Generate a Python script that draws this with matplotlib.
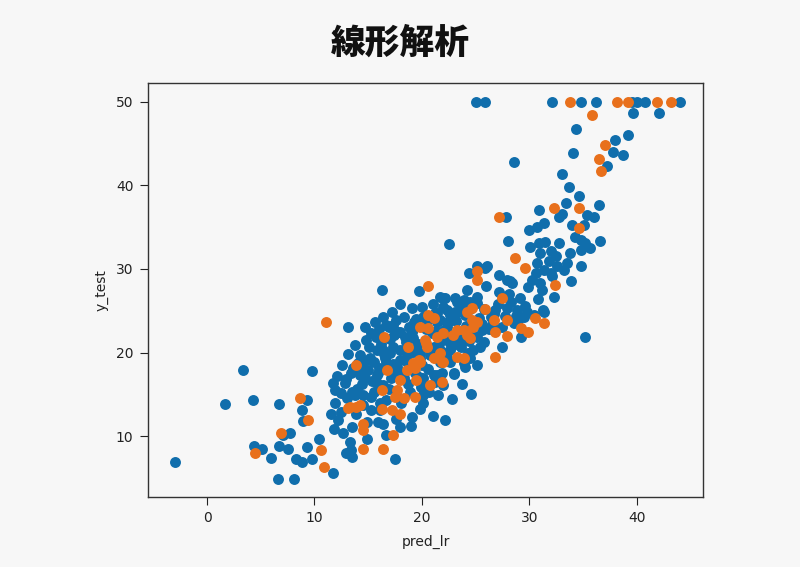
import matplotlib
matplotlib.use("Agg")
import matplotlib.pyplot as plt

title = "線形解析"
x_label = "pred_lr"
y_label = "y_test"
x_ticks = [0, 10, 20, 30, 40]
y_ticks = [10, 20, 30, 40, 50]

train_x = [
    -3.0, 3.3, 1.7, 4.3, 6.7, 9.8, 9.3, 8.8, 8.9, 7.7, 7.1, 4.4, 5.1, 6.0, 6.7, 7.5, 8.3, 8.8, 9.8, 9.3,
    10.4, 6.6, 8.1, 11.7, 11.7, 12.8, 11.9, 12.5, 11.9, 11.5, 12.2, 11.8, 12.7, 12.9,
    13.5, 14.25, 14.1, 15.2, 14.7, 13.5, 13.3, 13.4, 13.5, 14.9, 14.9, 15.95, 16.4, 16.7, 17.5, 22.2,
    15.3, 16.1, 14.55, 19.1, 19.85, 20.15, 18.0, 12.5, 13.9, 13.0, 13.8, 14.55, 15.5, 16.4, 15.8, 16.7,
    18.9, 20.15, 20.3, 21.1, 22.0, 18.3, 17.7, 18.6, 19.85, 21.7, 22.3,
    13.15, 16.3, 19.7, 22.5, 22.0, 22.3, 20.1, 21.4, 16.9, 17.35, 18.0, 19.1, 14.25, 15.2, 16.4, 17.35,
    18.0, 19.2, 22.3, 22.0, 19.85,
    25.07, 25.9, 32.1, 34.8, 36.2, 39.6, 40.05, 40.8, 44.0,
    39.7, 42.1, 34.4, 39.2, 38.0, 37.8, 38.75, 34.1, 37.25, 28.6, 33.05, 33.7, 34.6, 33.4, 36.5, 30.9,
    32.75, 33.05, 35.4, 36.0, 27.8, 31.35, 30.7, 29.95, 34.0, 35.1, 28.0, 36.6, 30.1, 30.9, 31.5, 32.75,
    34.3, 34.8, 35.2, 35.7, 31.0, 32.0, 32.45, 33.8, 34.8, 30.7, 31.8, 33.5, 34.8, 30.6, 33.2, 30.3,
    31.2, 32.3, 32.1, 33.9, 25.9, 24.35, 24.2, 25.1, 27.9, 28.4, 27.15, 29.1, 22.2, 23.1, 23.9, 31.3,
    31.0, 31.35, 32.0, 32.6, 25.1, 26.1, 21.7, 31.35,
    23.4, 24.5, 25.75, 26.85, 27.9, 28.85, 29.8, 30.4,
    27.45, 29.2, 29.0, 29.5, 25.45, 25.1, 25.6, 23.6, 22.3, 22.6, 23.9, 25.1, 21.7,
    24.6, 22.95, 35.2, 28.2,
    16.7, 17.8, 19.1, 15.8, 17.0, 16.6, 15.5, 18.0, 22.6, 22.0, 23.3, 24.5, 25.1, 21.2, 21.4, 22.6,
    23.6, 23.0, 24.0, 24.5, 24.8, 20.0, 19.4, 21.4, 18.3,
    14.8, 15.3, 16.0, 16.2, 17.0, 17.6, 18.3, 18.8, 19.5, 20.2, 20.9, 21.6, 20.8, 19.2, 18.5, 17.3,
    16.0, 15.0, 14.4, 15.8, 17.1, 18.7, 19.9, 21.2, 22.6, 23.5, 24.1, 25.3, 26.4, 27.1, 28.3, 28.8,
    27.5, 26.3, 25.8, 24.3, 23.2, 22.1, 21.0, 20.0, 19.1, 18.0, 17.2, 16.4, 15.6, 14.7, 13.8, 13.1,
    12.6, 13.4, 12.1, 14.0, 15.3, 16.7, 18.1, 17.6, 19.0, 21.0, 21.5, 22.8, 23.7,
    15.1, 15.7, 16.5, 17.4, 18.4, 19.3, 20.5, 21.3, 22.4, 23.1, 24.0, 14.3, 15.9, 17.7, 18.9, 20.6,
    21.8, 23.3, 19.7, 20.7, 21.9, 17.9, 16.9, 15.4, 14.6, 13.6, 12.9, 18.6, 19.6, 20.4, 22.9, 24.4,
    25.6, 26.7, 27.7, 28.6, 29.6, 26.0, 27.2, 28.1, 29.9, 30.8, 26.5, 24.9, 23.8, 21.1, 20.1, 16.1,
]
train_y = [
    6.9, 17.9, 13.8, 14.3, 13.8, 17.8, 14.3, 13.1, 11.8, 10.4, 10.1, 8.8, 8.45, 7.4, 8.8, 8.4, 7.3, 6.95, 7.2, 8.65,
    9.65, 4.9, 4.9, 5.6, 16.4, 16.3, 15.5, 15.1, 13.9, 12.7, 11.9, 10.8, 10.4, 8.0,
    15.3, 17.3, 18.7, 19.1, 16.9, 11.1, 9.3, 8.3, 7.5, 9.7, 11.7, 11.7, 11.5, 10.1, 7.25, 11.9,
    13.1, 13.1, 13.7, 12.3, 13.3, 13.9, 11.1, 12.9, 12.7, 14.5, 14.9, 14.9, 15.3, 16.1, 17.3, 18.9,
    15.3, 14.9, 16.1, 17.3, 16.1, 16.9, 18.3, 18.9, 19.3, 18.9, 19.3,
    23.1, 27.5, 27.3, 33.0, 26.5, 25.1, 24.2, 24.7, 23.1, 23.3, 22.5, 22.7, 19.7, 19.3, 20.3, 20.7,
    20.3, 21.7, 23.1, 21.9, 19.9,
    50.0, 50.0, 50.0, 50.0, 50.0, 50.0, 50.0, 50.0, 50.0,
    48.7, 48.6, 46.8, 46.0, 45.4, 44.0, 43.6, 43.9, 42.3, 42.75, 41.3, 39.8, 38.7, 37.9, 37.6, 37.0,
    36.2, 36.6, 36.45, 36.2, 36.2, 35.45, 35.05, 34.7, 35.3, 35.25, 33.3, 33.4, 32.65, 33.05, 33.25, 33.05,
    33.85, 33.45, 33.05, 32.5, 31.9, 32.1, 31.5, 31.9, 32.25, 30.7, 30.9, 30.7, 30.3, 29.5, 29.9, 28.7,
    27.5, 26.7, 29.1, 28.55, 30.15, 29.5, 27.5, 26.7, 28.7, 28.3, 27.2, 26.5, 26.5, 26.5, 26.3, 25.1,
    28.3, 29.9, 29.5, 30.3, 30.3, 30.3, 26.7, 24.9,
    24.9, 25.2, 25.2, 25.1, 25.3, 25.1, 24.9, 24.5,
    20.7, 21.9, 23.9, 24.3, 20.7, 21.9, 22.7, 21.1, 21.5, 20.3, 18.7, 18.5, 23.9,
    15.0, 17.4, 21.8, 28.6,
    23.3, 22.5, 22.5, 20.3, 19.9, 19.3, 18.9, 19.1, 24.5, 25.5, 26.1, 26.1, 25.9, 24.7, 23.7, 21.1,
    20.7, 17.5, 18.3, 19.3, 20.3, 18.5, 17.5, 17.3, 17.5,
    21.5, 22.3, 22.8, 21.0, 21.6, 23.9, 24.2, 23.0, 24.0, 23.0, 22.3, 21.0, 19.7, 20.1, 21.3, 18.6,
    18.2, 17.9, 16.2, 16.3, 16.9, 16.2, 15.9, 16.5, 18.9, 22.0, 23.2, 24.1, 24.3, 25.8, 26.0, 24.4,
    23.0, 22.8, 21.3, 20.0, 23.8, 22.7, 25.8, 25.5, 25.3, 25.8, 24.8, 24.2, 23.7, 23.0, 20.9, 19.8,
    18.5, 17.5, 17.2, 15.6, 14.7, 14.3, 13.9, 12.0, 11.2, 12.4, 14.9, 14.4, 16.2,
    20.6, 21.8, 19.8, 22.1, 21.9, 23.6, 23.8, 22.6, 23.6, 24.8, 24.5, 18.0, 17.6, 17.8, 20.4, 18.0,
    20.2, 21.6, 17.1, 15.3, 17.6, 14.6, 15.6, 16.6, 19.0, 18.2, 16.8, 19.6, 21.0, 22.8, 20.9, 21.4,
    23.4, 24.6, 24.4, 23.5, 25.6, 27.9, 29.3, 27.0, 27.8, 26.4, 23.3, 22.0, 25.4, 20.6, 17.0, 14.0,
]

test_x = [
    8.65, 9.4, 6.85, 4.45, 10.6, 10.85, 13.1,
    13.9, 16.8, 16.3, 13.3, 13.9, 14.25, 14.55, 14.55, 14.5, 16.4, 17.35, 16.3, 17.2, 18.0, 17.5, 17.7,
    18.3, 19.4, 18.0, 19.5, 18.6, 19.4, 19.7, 21.1, 21.9, 21.9,
    11.07, 20.55, 20.6, 21.1, 19.85, 20.6, 16.5, 18.75, 20.3, 21.4, 20.5, 21.7,
    33.8, 38.2, 39.2, 41.9, 43.2, 35.85, 37.1, 36.5, 36.7, 32.3, 34.6, 27.15, 34.6, 28.7, 29.6, 32.4,
    25.1, 25.1, 27.5, 24.7, 25.9,
    24.2, 24.7, 26.7, 27.9, 29.2, 29.9, 30.5, 31.35, 27.9, 26.85, 26.85, 23.3, 23.9, 24.2, 24.5, 22.9,
    25.1, 22.0, 23.3, 23.9,
    20.4, 22.0, 19.85, 19.2, 20.8, 24.8,
]
test_y = [
    14.6, 11.9, 10.4, 8.0, 8.3, 6.3, 13.4,
    18.5, 17.9, 15.5, 13.5, 13.5, 13.7, 11.5, 10.7, 8.4, 8.45, 10.1, 13.3, 13.1, 12.7, 14.7, 15.5,
    14.5, 14.7, 16.7, 16.7, 17.9, 18.1, 19.1, 19.3, 18.9, 16.5,
    23.7, 27.9, 24.5, 24.1, 23.1, 22.9, 21.8, 20.7, 21.5, 21.9, 20.7, 19.9,
    50.0, 50.0, 50.0, 50.0, 50.0, 48.4, 44.8, 43.1, 41.7, 37.3, 37.3, 36.2, 34.85, 31.3, 30.15, 28.1,
    29.75, 28.7, 26.55, 25.3, 25.2,
    24.9, 23.9, 23.9, 23.9, 22.9, 22.5, 24.1, 23.5, 22.0, 22.5, 19.5, 22.7, 22.7, 22.1, 21.7, 22.1,
    23.7, 22.3, 19.5, 19.3,
    21.1, 18.9, 18.9, 18.7, 16.1, 23.1,
]

blue = "#106eac"
orange = "#e8701c"
bg = "#f7f7f7"

plt.rcParams['font.family'] = ['DejaVu Sans']
fig = plt.figure(figsize=(8.0, 5.67), dpi=100, facecolor=bg)
ax = fig.add_axes([0.185, 0.124, 0.694, 0.730])
ax.set_facecolor(bg)

ax.scatter(train_x, train_y, s=62, color=blue, linewidths=0, zorder=2)
ax.scatter(test_x, test_y, s=62, color=orange, linewidths=0, zorder=3)

ax.set_xlim(-5.5, 46.2)
ax.set_ylim(2.75, 52.27)
ax.set_xticks(x_ticks)
ax.set_yticks(y_ticks)
ax.tick_params(labelsize=10, colors="#222222", length=5.5, pad=5)
for sp in ax.spines.values():
    sp.set_color("#333333")
    sp.set_linewidth(1.0)
ax.set_xlabel(x_label, fontsize=10, color="#222222", labelpad=7)
ax.set_ylabel(y_label, fontsize=10, color="#222222", labelpad=5)

fig.text(0.5, 0.924, title, ha="center", va="center", fontsize=25, fontweight="heavy",
         family=["Noto Sans CJK JP", "DejaVu Sans"], color="#111111")

fig.savefig("out.png", dpi=100, facecolor=bg)
